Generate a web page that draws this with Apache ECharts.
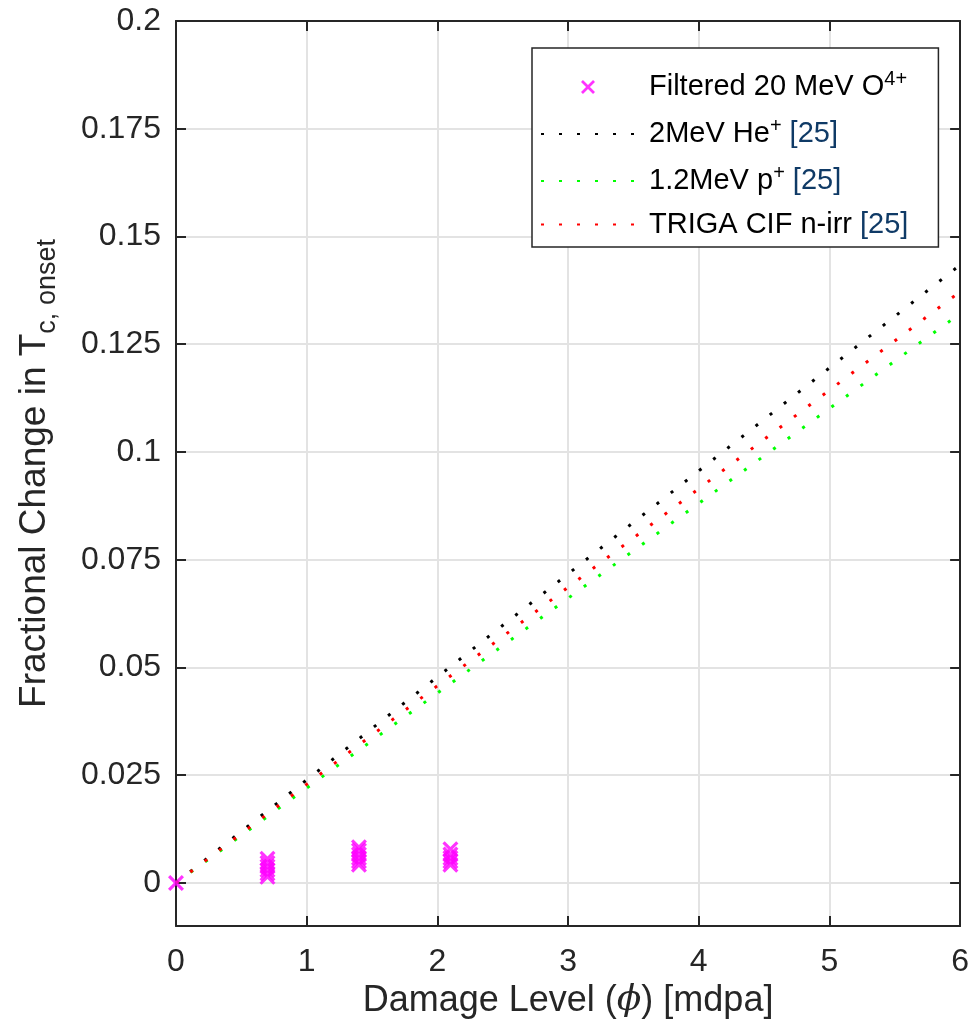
<!DOCTYPE html>
<html>
<head>
<meta charset="utf-8">
<script src="https://cdn.jsdelivr.net/npm/echarts@6/dist/echarts.min.js"></script>
<style>
  html, body { margin: 0; padding: 0; background: #fff; }
  #chart { width: 972px; height: 1033px; }
</style>
</head>
<body>
<div id="chart"></div>
<script>
// Damage level (mdpa) on x, fractional change in Tc,onset on y
const xTicks = [0, 1, 2, 3, 4, 5, 6];
const yTicks = [0, 0.025, 0.05, 0.075, 0.1, 0.125, 0.15, 0.175, 0.2];

// Measured points, filtered 20 MeV O4+ irradiation
const oxygenPoints = [
  [0, 0],
  [0.7, 0.0014], [0.7, 0.0022], [0.7, 0.0030], [0.7, 0.0038], [0.7, 0.0046], [0.7, 0.0056],
  [1.4, 0.0042], [1.4, 0.0050], [1.4, 0.0058], [1.4, 0.0066], [1.4, 0.0075], [1.4, 0.0083],
  [2.1, 0.0042], [2.1, 0.0050], [2.1, 0.0058], [2.1, 0.0066], [2.1, 0.0078]
];

// Reference trends [25]
const heLine = [[0, 0], [6, 0.1434]];
const protonLine = [[0, 0], [6, 0.1321]];
const neutronLine = [[0, 0], [6, 0.1372]];

const names = {
  oxygen: 'Filtered 20 MeV O4+',
  he: '2MeV He+ [25]',
  p: '1.2MeV p+ [25]',
  n: 'TRIGA CIF n-irr [25]'
};

const font = 'Liberation Sans';
const ink = '#262626';

const legendRich = {
  t: { fontSize: 29, color: '#000', lineHeight: 36, fontFamily: font },
  sup: { fontSize: 20, color: '#000', lineHeight: 20, verticalAlign: 'top', fontFamily: font },
  ref: { fontSize: 29, color: '#0f3a66', lineHeight: 36, fontFamily: font }
};

const legendLabels = {};
legendLabels[names.oxygen] = '{t|Filtered 20 MeV O}{sup|4+}';
legendLabels[names.he] = '{t|2MeV He}{sup|+}{ref| [25]}';
legendLabels[names.p] = '{t|1.2MeV p}{sup|+}{ref| [25]}';
legendLabels[names.n] = '{t|TRIGA CIF n-irr }{ref|[25]}';

// bold "x" marker
const crossPath = 'path://M0,1.4 L1.4,0 L5,3.6 L8.6,0 L10,1.4 L6.4,5 L10,8.6 L8.6,10 L5,6.4 L1.4,10 L0,8.6 L3.6,5 Z';

const chart = echarts.init(document.getElementById('chart'), null, { renderer: 'canvas' });

const gridLine = { show: true, lineStyle: { color: '#e3e3e3', width: 2 } };
const frameLine = { show: true, onZero: false, lineStyle: { color: ink, width: 2 } };
const innerTick = { show: true, inside: true, length: 10, lineStyle: { color: ink, width: 2 } };
const dotted = [3, 15];
const clear = 'rgba(0,0,0,0)';

function trend(name, data, color) {
  return {
    name: name,
    type: 'line',
    data: data,
    showSymbol: false,
    symbol: 'circle',
    itemStyle: { color: clear },
    lineStyle: { color: color, width: 3, type: dotted, cap: 'butt' },
    z: 3
  };
}

chart.setOption({
  animation: false,
  backgroundColor: '#fff',
  grid: { left: 176, right: 11, top: 21, bottom: 107, containLabel: false },
  legend: {
    orient: 'vertical',
    left: 532,
    top: 48,
    padding: [21, 30, 8, 8],
    itemGap: 14.5,
    itemWidth: 94,
    itemHeight: 14,
    backgroundColor: '#fff',
    borderColor: ink,
    borderWidth: 1.5,
    borderRadius: 0,
    data: [names.oxygen, names.he, names.p, names.n],
    formatter: function (name) { return legendLabels[name]; },
    textStyle: { rich: legendRich, padding: [0, 0, 0, 9] }
  },
  xAxis: [{
    type: 'value',
    min: 0, max: 6, interval: 1,
    position: 'bottom',
    name: '{t|Damage Level (}{phi|ϕ}{t|) [mdpa]}',
    nameLocation: 'middle',
    nameGap: 57,
    nameTextStyle: {
      verticalAlign: 'top',
      rich: {
        t: { fontSize: 36, color: ink, fontFamily: font },
        phi: { fontSize: 36, color: ink, fontFamily: 'DejaVu Serif', fontStyle: 'italic' }
      }
    },
    axisLine: frameLine,
    axisTick: innerTick,
    axisLabel: { color: ink, fontSize: 32, fontFamily: font, margin: 20 },
    splitLine: gridLine
  }, {
    type: 'value',
    min: 0, max: 6, interval: 1,
    position: 'top',
    axisLine: frameLine,
    axisTick: innerTick,
    axisLabel: { show: false },
    splitLine: { show: false }
  }],
  yAxis: [{
    type: 'value',
    min: -0.01, max: 0.2,
    position: 'left',
    name: '{t|Fractional Change in T}{sub|c, onset}',
    nameLocation: 'middle',
    nameRotate: 90,
    nameGap: 115,
    nameTextStyle: {
      rich: {
        t: { fontSize: 37, color: ink, fontFamily: font, lineHeight: 52 },
        sub: { fontSize: 27, color: ink, fontFamily: font, lineHeight: 24, verticalAlign: 'bottom' }
      }
    },
    axisLine: frameLine,
    axisTick: Object.assign({ customValues: yTicks }, innerTick),
    axisLabel: { color: ink, fontSize: 32, fontFamily: font, margin: 15, customValues: yTicks },
    splitLine: gridLine
  }, {
    type: 'value',
    min: -0.01, max: 0.2,
    position: 'right',
    axisLine: frameLine,
    axisTick: Object.assign({ customValues: yTicks }, innerTick),
    axisLabel: { show: false, customValues: yTicks },
    splitLine: { show: false }
  }],
  series: [
    {
      name: names.oxygen,
      type: 'scatter',
      data: oxygenPoints,
      symbol: crossPath,
      symbolSize: 16,
      itemStyle: { color: '#ff00ff' },
      z: 5
    },
    trend(names.he, heLine, '#000000'),
    trend(names.p, protonLine, '#00ff00'),
    trend(names.n, neutronLine, '#ff0000')
  ]
});
</script>
</body>
</html>
